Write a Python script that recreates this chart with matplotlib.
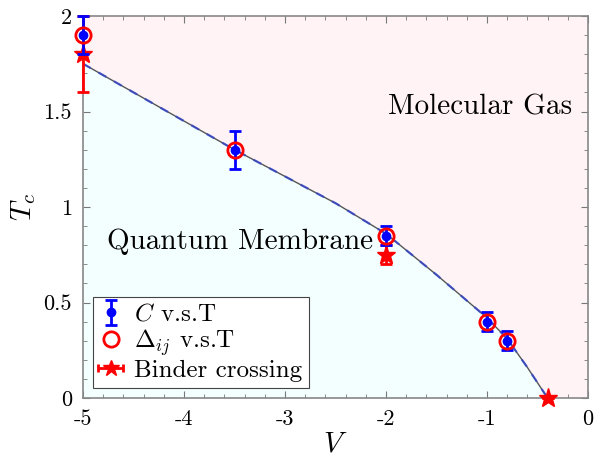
import numpy as np
import matplotlib
matplotlib.use("Agg")
import matplotlib.pyplot as plt
from matplotlib.ticker import MultipleLocator

plt.rcParams["font.family"] = "cmr10"
plt.rcParams["mathtext.fontset"] = "cm"
plt.rcParams["axes.unicode_minus"] = False
plt.rcParams["axes.formatter.use_mathtext"] = False

# Linha de transicao
v_curve = [-5, -4.5, -4, -3.5, -3, -2.5, -2, -1.5, -1, -0.8, -0.6, -0.5, -0.4]
t_curve = [1.75, 1.60, 1.45, 1.30, 1.16, 1.02, 0.86, 0.645, 0.42, 0.31, 0.16, 0.08, 0.0]

# C v.s.T
v_c = [-5, -3.5, -2, -1, -0.8]
t_c = [1.9, 1.3, 0.85, 0.4, 0.3]
err_c = [0.1, 0.1, 0.05, 0.05, 0.05]

# Delta_ij v.s.T
v_d = [-5, -3.5, -2, -1, -0.8]
t_d = [1.9, 1.3, 0.85, 0.4, 0.3]

# Binder crossing
v_b = [-5, -2, -0.4]
t_b = [1.8, 0.75, 0.0]
err_b = [0.2, 0.05, 0.0]

fig = plt.figure(figsize=(5.96, 4.62), dpi=100)
ax = fig.add_axes([83/596, 1-398/462, 505/596, 382/462])

ax.set_facecolor("#fff3f6")
ax.fill_between(v_curve, 0, t_curve, color="#f3ffff", zorder=0)

ax.plot(v_curve, t_curve, color="#555555", lw=1.0, zorder=1)
ax.plot(v_curve, t_curve, color="#3344cc", lw=1.6, ls=(0, (4, 4)), alpha=0.8, zorder=1)

ax.errorbar(v_b, t_b, yerr=err_b, fmt="*", color="red", ms=14,
            elinewidth=2, capsize=4, capthick=2, zorder=3, clip_on=False)
h_c = ax.errorbar(v_c, t_c, yerr=err_c, fmt="o", color="blue", ms=6, elinewidth=2,
                  capsize=4, capthick=2, zorder=4, clip_on=False)
h_d, = ax.plot(v_d, t_d, "o", mfc="none", mec="red", ms=11, mew=2,
               zorder=5, clip_on=False)

# handle da legenda do Binder (barra horizontal, como no original)
h_b = ax.errorbar([np.nan], [np.nan], xerr=[0.1], fmt="*", color="red", ms=12,
                  elinewidth=2, capsize=3, capthick=2)

ax.text(-1.07, 1.52, "Molecular Gas", fontsize=21, ha="center", va="center")
ax.text(-4.76, 0.82, "Quantum Membrane", fontsize=21, ha="left", va="center")

ax.set_xlim(-5, 0)
ax.set_ylim(0, 2)
ax.xaxis.set_major_locator(MultipleLocator(1))
ax.xaxis.set_minor_locator(MultipleLocator(0.2))
ax.yaxis.set_minor_locator(MultipleLocator(0.1))
ax.set_yticks([0, 0.5, 1, 1.5, 2])
ax.set_yticklabels(["0", "0.5", "1", "1.5", "2"])
ax.tick_params(which="both", direction="in", top=True, right=True, colors="#777777",
               labelcolor="black", labelsize=16, pad=8)
ax.tick_params(which="major", length=5)
ax.tick_params(which="minor", length=3)
for s in ax.spines.values():
    s.set_color("#888888")
    s.set_linewidth(1.2)

ax.set_xlabel("$V$", fontsize=21, labelpad=2)
ax.set_ylabel("$T_c$", fontsize=21, labelpad=4)

leg = ax.legend([h_c, h_d, h_b], ["$C$ v.s.T", r"$\Delta_{ij}$ v.s.T", "Binder crossing"],
                loc="lower left", fontsize=18, fancybox=False, edgecolor="#444444",
                framealpha=1, borderaxespad=0.4, handlelength=0.9, handletextpad=0.5,
                labelspacing=0.05, borderpad=0.25)
leg.get_frame().set_linewidth(0.8)

plt.savefig("out.png", dpi=100)
